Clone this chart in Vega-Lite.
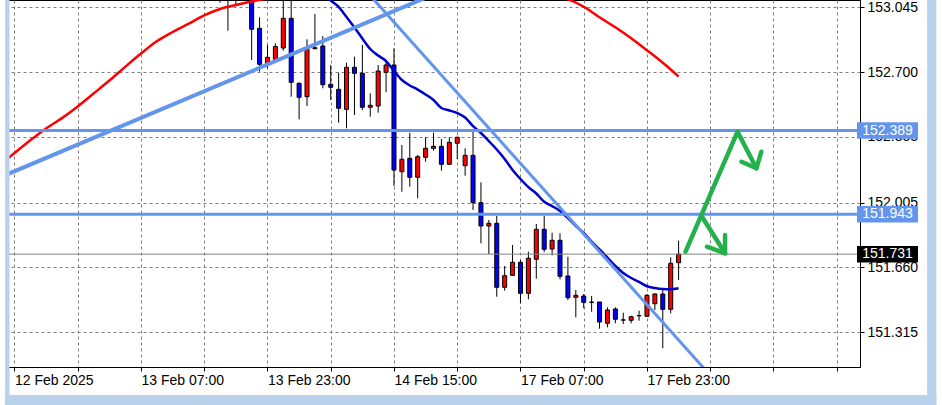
{
  "$schema": "https://vega.github.io/schema/vega-lite/v6.json",
  "width": 852,
  "height": 367,
  "autosize": {"type": "none"},
  "padding": {"left": 8, "top": 0, "right": 82, "bottom": 38},
  "background": "white",
  "config": {
    "view": {"stroke": "black", "strokeWidth": 1},
    "axis": {"labelFont": "Liberation Sans", "labelFontSize": 14, "labelColor": "black", "domainColor": "black", "tickColor": "black", "gridColor": "#808080", "gridDash": [3, 3], "gridWidth": 1}
  },
  "datasets": {
    "candles": [
      {"i": 26, "o": 153.12, "h": 153.15, "l": 153.0695, "c": 153.10},
      {"i": 27, "o": 153.10, "h": 153.16, "l": 152.9204, "c": 153.13},
      {"i": 28, "o": 153.13, "h": 153.17, "l": 153.0626, "c": 153.11},
      {"i": 29, "o": 153.11, "h": 153.16, "l": 153.09, "c": 153.14},
      {"i": 30, "o": 153.14, "h": 153.16, "l": 152.7645, "c": 152.9279},
      {"i": 31, "o": 152.9332, "h": 152.9918, "l": 152.7022, "c": 152.7416},
      {"i": 32, "o": 152.7432, "h": 152.8443, "l": 152.7203, "c": 152.7788},
      {"i": 33, "o": 152.7682, "h": 152.8534, "l": 152.7501, "c": 152.8363},
      {"i": 34, "o": 152.8284, "h": 153.09, "l": 152.814, "c": 152.9864},
      {"i": 35, "o": 152.9864, "h": 153.10, "l": 152.5691, "c": 152.6458},
      {"i": 36, "o": 152.6404, "h": 152.645, "l": 152.4488, "c": 152.5659},
      {"i": 37, "o": 152.5691, "h": 152.8747, "l": 152.5196, "c": 152.8214},
      {"i": 38, "o": 152.8246, "h": 153.0093, "l": 152.822, "c": 152.83},
      {"i": 39, "o": 152.839, "h": 152.8922, "l": 152.6138, "c": 152.633},
      {"i": 40, "o": 152.6351, "h": 152.7379, "l": 152.5515, "c": 152.6192},
      {"i": 41, "o": 152.6085, "h": 152.6969, "l": 152.4307, "c": 152.5074},
      {"i": 42, "o": 152.502, "h": 152.7501, "l": 152.4009, "c": 152.7256},
      {"i": 43, "o": 152.7256, "h": 152.782, "l": 152.4717, "c": 152.6937},
      {"i": 44, "o": 152.6937, "h": 152.8443, "l": 152.4983, "c": 152.5127},
      {"i": 45, "o": 152.5127, "h": 152.5872, "l": 152.4626, "c": 152.5233},
      {"i": 46, "o": 152.5196, "h": 152.7379, "l": 152.4839, "c": 152.7059},
      {"i": 47, "o": 152.699, "h": 152.7645, "l": 152.5925, "c": 152.7379},
      {"i": 48, "o": 152.7379, "h": 152.8268, "l": 152.0938, "c": 152.1789},
      {"i": 49, "o": 152.1699, "h": 152.312, "l": 152.0634, "c": 152.2359},
      {"i": 50, "o": 152.2412, "h": 152.3775, "l": 152.09, "c": 152.1401},
      {"i": 51, "o": 152.1401, "h": 152.2588, "l": 152.0283, "c": 152.2497},
      {"i": 52, "o": 152.2465, "h": 152.353, "l": 152.2231, "c": 152.2944},
      {"i": 53, "o": 152.2944, "h": 152.3775, "l": 152.2817, "c": 152.3051},
      {"i": 54, "o": 152.3051, "h": 152.344, "l": 152.1752, "c": 152.2093},
      {"i": 55, "o": 152.2093, "h": 152.353, "l": 152.205, "c": 152.3264},
      {"i": 56, "o": 152.3211, "h": 152.356, "l": 152.2375, "c": 152.353},
      {"i": 57, "o": 152.2018, "h": 152.2944, "l": 152.1486, "c": 152.2572},
      {"i": 58, "o": 152.2572, "h": 152.3828, "l": 151.966, "c": 152.0049},
      {"i": 59, "o": 152.0049, "h": 152.1135, "l": 151.7887, "c": 151.8808},
      {"i": 60, "o": 151.8808, "h": 151.9128, "l": 151.7318, "c": 151.8952},
      {"i": 61, "o": 151.8952, "h": 151.9341, "l": 151.5045, "c": 151.5545},
      {"i": 62, "o": 151.5545, "h": 151.6679, "l": 151.5364, "c": 151.6163},
      {"i": 63, "o": 151.6184, "h": 151.7797, "l": 151.616, "c": 151.6876},
      {"i": 64, "o": 151.6876, "h": 151.6998, "l": 151.4694, "c": 151.5226},
      {"i": 65, "o": 151.5226, "h": 151.744, "l": 151.4907, "c": 151.7089},
      {"i": 66, "o": 151.7036, "h": 151.8915, "l": 151.6003, "c": 151.8633},
      {"i": 67, "o": 151.8633, "h": 151.9341, "l": 151.7424, "c": 151.7568},
      {"i": 68, "o": 151.7584, "h": 151.8452, "l": 151.7249, "c": 151.8047},
      {"i": 69, "o": 151.8047, "h": 151.842, "l": 151.5971, "c": 151.6131},
      {"i": 70, "o": 151.6147, "h": 151.7174, "l": 151.4869, "c": 151.4992},
      {"i": 71, "o": 151.5013, "h": 151.5402, "l": 151.3948, "c": 151.5119},
      {"i": 72, "o": 151.5082, "h": 151.5189, "l": 151.4427, "c": 151.4747},
      {"i": 73, "o": 151.476, "h": 151.5082, "l": 151.4246, "c": 151.474},
      {"i": 74, "o": 151.4763, "h": 151.4763, "l": 151.3342, "c": 151.3698},
      {"i": 75, "o": 151.3629, "h": 151.4481, "l": 151.3416, "c": 151.4337},
      {"i": 76, "o": 151.439, "h": 151.4481, "l": 151.3629, "c": 151.3842},
      {"i": 77, "o": 151.381, "h": 151.4193, "l": 151.3592, "c": 151.38},
      {"i": 78, "o": 151.3789, "h": 151.4033, "l": 151.3629, "c": 151.398},
      {"i": 79, "o": 151.403, "h": 151.43, "l": 151.3768, "c": 151.404},
      {"i": 80, "o": 151.4002, "h": 151.5189, "l": 151.398, "c": 151.5119},
      {"i": 81, "o": 151.4672, "h": 151.522, "l": 151.4337, "c": 151.5189},
      {"i": 82, "o": 151.5189, "h": 151.5492, "l": 151.2298, "c": 151.4374},
      {"i": 83, "o": 151.4374, "h": 151.7142, "l": 151.4161, "c": 151.6823},
      {"i": 84, "o": 151.6855, "h": 151.8026, "l": 151.5934, "c": 151.731}
    ],
    "ma_red": [
      {"i": -1, "v": 152.235}, {"i": 0, "v": 152.269}, {"i": 2, "v": 152.337}, {"i": 4, "v": 152.4},
      {"i": 6, "v": 152.455}, {"i": 8, "v": 152.5175}, {"i": 10, "v": 152.586}, {"i": 12, "v": 152.655},
      {"i": 14, "v": 152.728}, {"i": 16, "v": 152.799}, {"i": 18, "v": 152.864}, {"i": 20, "v": 152.9135},
      {"i": 22, "v": 152.957}, {"i": 24, "v": 153.002}, {"i": 26, "v": 153.036}, {"i": 28, "v": 153.057},
      {"i": 30, "v": 153.076}, {"i": 32, "v": 153.092}, {"i": 36, "v": 153.12}, {"i": 40, "v": 153.14},
      {"i": 44, "v": 153.15}, {"i": 48, "v": 153.155}, {"i": 52, "v": 153.15}, {"i": 56, "v": 153.14},
      {"i": 60, "v": 153.13}, {"i": 64, "v": 153.115}, {"i": 68, "v": 153.1}, {"i": 70, "v": 153.087},
      {"i": 72, "v": 153.048}, {"i": 74, "v": 152.992}, {"i": 76, "v": 152.9385}, {"i": 78, "v": 152.88},
      {"i": 80, "v": 152.816}, {"i": 82, "v": 152.7496}, {"i": 84, "v": 152.677}
    ],
    "ma_blue": [
      {"i": 38, "v": 153.14}, {"i": 39, "v": 153.115}, {"i": 40, "v": 153.081}, {"i": 41, "v": 153.047},
      {"i": 42, "v": 152.993}, {"i": 43, "v": 152.937}, {"i": 44, "v": 152.8795}, {"i": 45, "v": 152.823},
      {"i": 46, "v": 152.788}, {"i": 47, "v": 152.759}, {"i": 48, "v": 152.706}, {"i": 49, "v": 152.658},
      {"i": 50, "v": 152.629}, {"i": 51, "v": 152.607}, {"i": 52, "v": 152.581}, {"i": 53, "v": 152.5515},
      {"i": 54, "v": 152.509}, {"i": 55, "v": 152.496}, {"i": 56, "v": 152.482}, {"i": 57, "v": 152.458},
      {"i": 58, "v": 152.413}, {"i": 59, "v": 152.376}, {"i": 60, "v": 152.333}, {"i": 61, "v": 152.288},
      {"i": 62, "v": 152.2375}, {"i": 63, "v": 152.179}, {"i": 64, "v": 152.131}, {"i": 65, "v": 152.088},
      {"i": 66, "v": 152.054}, {"i": 67, "v": 152.0097}, {"i": 68, "v": 151.987}, {"i": 69, "v": 151.961},
      {"i": 70, "v": 151.923}, {"i": 71, "v": 151.881}, {"i": 72, "v": 151.8436}, {"i": 73, "v": 151.798},
      {"i": 74, "v": 151.756}, {"i": 75, "v": 151.713}, {"i": 76, "v": 151.668}, {"i": 77, "v": 151.631},
      {"i": 78, "v": 151.604}, {"i": 79, "v": 151.583}, {"i": 80, "v": 151.56}, {"i": 81, "v": 151.551},
      {"i": 82, "v": 151.5455}, {"i": 83, "v": 151.544}, {"i": 84, "v": 151.549}
    ],
    "trend_up": [{"i": -1, "p": 152.1544}, {"i": 55, "p": 153.1493}],
    "trend_down": [{"i": 44, "p": 153.154}, {"i": 88, "p": 151.086}],
    "levels": [{"p": 152.389}, {"p": 151.943}],
    "bid": [{"p": 151.731}],
    "arrows": [
      {"seg": "a", "k": 0, "i": 84.875, "p": 151.744},
      {"seg": "a", "k": 1, "i": 91.46, "p": 152.383},
      {"seg": "a", "k": 2, "i": 93.84, "p": 152.188},
      {"seg": "b", "k": 0, "i": 91.96, "p": 152.223},
      {"seg": "b", "k": 1, "i": 93.84, "p": 152.188},
      {"seg": "b", "k": 2, "i": 94.46, "p": 152.276},
      {"seg": "c", "k": 0, "i": 86.96, "p": 151.93},
      {"seg": "c", "k": 1, "i": 89.875, "p": 151.7355},
      {"seg": "d", "k": 0, "i": 87.59, "p": 151.7707},
      {"seg": "d", "k": 1, "i": 89.875, "p": 151.7355},
      {"seg": "d", "k": 2, "i": 89.875, "p": 151.833}
    ]
  },
  "layer": [
    {
      "data": {"name": "candles"},
      "mark": {"type": "rule", "color": "black", "strokeWidth": 1, "clip": true},
      "encoding": {
        "x": {"field": "i", "type": "quantitative", "title": null,
          "scale": {"type": "linear", "domain": [-0.1875, 106.3125], "nice": false, "zero": false},
          "axis": {"orient": "bottom", "title": null, "values": [0, 8, 16, 24, 32, 40, 48, 56, 64, 72, 80, 88, 96, 104],
            "labelExpr": "datum.value == 0 ? '12 Feb 2025' : datum.value == 16 ? '13 Feb 07:00' : datum.value == 32 ? '13 Feb 23:00' : datum.value == 48 ? '14 Feb 15:00' : datum.value == 64 ? '17 Feb 07:00' : datum.value == 80 ? '17 Feb 23:00' : ''",
            "grid": true, "tickSize": 4, "labelAlign": "left", "labelBaseline": "top", "labelPadding": 2,
            "labelFlush": false, "labelOverlap": false, "labelBound": false}},
        "y": {"field": "l", "type": "quantitative", "title": null,
          "scale": {"domain": [151.1303, 153.0839], "nice": false, "zero": false},
          "axis": {"orient": "right", "title": null, "values": [151.315, 151.66, 152.005, 152.355, 152.7, 153.045],
            "format": ".3f", "grid": true, "tickSize": 4, "labelPadding": 3, "labelFlush": false,
            "labelOverlap": false, "labelBound": false, "labelBaseline": "middle"}},
        "y2": {"field": "h"}
      }
    },
    {
      "data": {"name": "candles"},
      "mark": {"type": "bar", "width": 4, "stroke": "black", "strokeWidth": 1, "clip": true},
      "encoding": {
        "x": {"field": "i", "type": "quantitative", "title": null},
        "y": {"field": "o", "type": "quantitative", "title": null},
        "y2": {"field": "c"},
        "fill": {"condition": {"test": "datum.c >= datum.o", "value": "#ff0000"}, "value": "#0000ff"}
      }
    },
    {
      "data": {"name": "ma_red"},
      "mark": {"type": "line", "color": "#ff0000", "strokeWidth": 2.5, "clip": true, "interpolate": "monotone"},
      "encoding": {
        "x": {"field": "i", "type": "quantitative", "title": null},
        "y": {"field": "v", "type": "quantitative", "title": null}
      }
    },
    {
      "data": {"name": "ma_blue"},
      "mark": {"type": "line", "color": "#0000cd", "strokeWidth": 2.5, "clip": true, "interpolate": "monotone"},
      "encoding": {
        "x": {"field": "i", "type": "quantitative", "title": null},
        "y": {"field": "v", "type": "quantitative", "title": null}
      }
    },
    {
      "data": {"name": "trend_up"},
      "mark": {"type": "line", "color": "#6495ed", "strokeWidth": 4, "clip": true},
      "encoding": {
        "x": {"field": "i", "type": "quantitative", "title": null},
        "y": {"field": "p", "type": "quantitative", "title": null}
      }
    },
    {
      "data": {"name": "trend_down"},
      "mark": {"type": "line", "color": "#6495ed", "strokeWidth": 3, "clip": true},
      "encoding": {
        "x": {"field": "i", "type": "quantitative", "title": null},
        "y": {"field": "p", "type": "quantitative", "title": null}
      }
    },
    {
      "data": {"name": "levels"},
      "mark": {"type": "rule", "color": "#6495ed", "strokeWidth": 3},
      "encoding": {
        "y": {"field": "p", "type": "quantitative", "title": null}
      }
    },
    {
      "data": {"name": "bid"},
      "mark": {"type": "rule", "color": "#808080", "strokeWidth": 1},
      "encoding": {
        "y": {"field": "p", "type": "quantitative", "title": null}
      }
    },
    {
      "data": {"name": "arrows"},
      "mark": {"type": "line", "color": "#22b14c", "strokeWidth": 4.5, "strokeCap": "round", "strokeJoin": "round", "clip": true},
      "encoding": {
        "x": {"field": "i", "type": "quantitative", "title": null},
        "y": {"field": "p", "type": "quantitative", "title": null},
        "detail": {"field": "seg"},
        "order": {"field": "k", "type": "quantitative"}
      }
    },
    {
      "data": {"name": "levels"},
      "mark": {"type": "point", "shape": "M-1,-0.27H1V0.27H-1Z", "size": 3721, "filled": true, "fill": "#6495ed", "strokeWidth": 0, "opacity": 1, "xOffset": 32.5, "clip": false},
      "encoding": {
        "x": {"datum": 106.3125},
        "y": {"field": "p", "type": "quantitative", "title": null}
      }
    },
    {
      "data": {"name": "bid"},
      "mark": {"type": "point", "shape": "M-1,-0.27H1V0.27H-1Z", "size": 3721, "filled": true, "fill": "#000000", "strokeWidth": 0, "opacity": 1, "xOffset": 32.5, "clip": false},
      "encoding": {
        "x": {"datum": 106.3125},
        "y": {"field": "p", "type": "quantitative", "title": null}
      }
    },
    {
      "data": {"name": "levels"},
      "mark": {"type": "text", "color": "white", "font": "Liberation Sans", "fontSize": 14, "align": "center", "baseline": "middle", "xOffset": 32.5, "clip": false},
      "encoding": {
        "x": {"datum": 106.3125},
        "y": {"field": "p", "type": "quantitative", "title": null},
        "text": {"field": "p", "type": "quantitative", "format": ".3f"}
      }
    },
    {
      "data": {"name": "bid"},
      "mark": {"type": "text", "color": "white", "font": "Liberation Sans", "fontSize": 14, "align": "center", "baseline": "middle", "xOffset": 32.5, "clip": false},
      "encoding": {
        "x": {"datum": 106.3125},
        "y": {"field": "p", "type": "quantitative", "title": null},
        "text": {"field": "p", "type": "quantitative", "format": ".3f"}
      }
    },
    {
      "data": {"values": [{}]},
      "mark": {"type": "rect", "color": "#b9d1ea", "clip": false},
      "encoding": {
        "x": {"datum": -1.1875}, "x2": {"datum": -0.625},
        "y": {"datum": 153.0839}, "y2": {"datum": 150.9281}
      }
    },
    {
      "data": {"values": [{}]},
      "mark": {"type": "rect", "color": "#b9d1ea", "clip": false},
      "encoding": {
        "x": {"datum": 115.4375}, "x2": {"datum": 116.6},
        "y": {"datum": 153.0839}, "y2": {"datum": 150.9281}
      }
    },
    {
      "data": {"values": [{}]},
      "mark": {"type": "rect", "color": "#b9d1ea", "clip": false},
      "encoding": {
        "x": {"datum": -1.1875}, "x2": {"datum": 116.6},
        "y": {"datum": 150.9813}, "y2": {"datum": 150.9281}
      }
    }
  ]
}
